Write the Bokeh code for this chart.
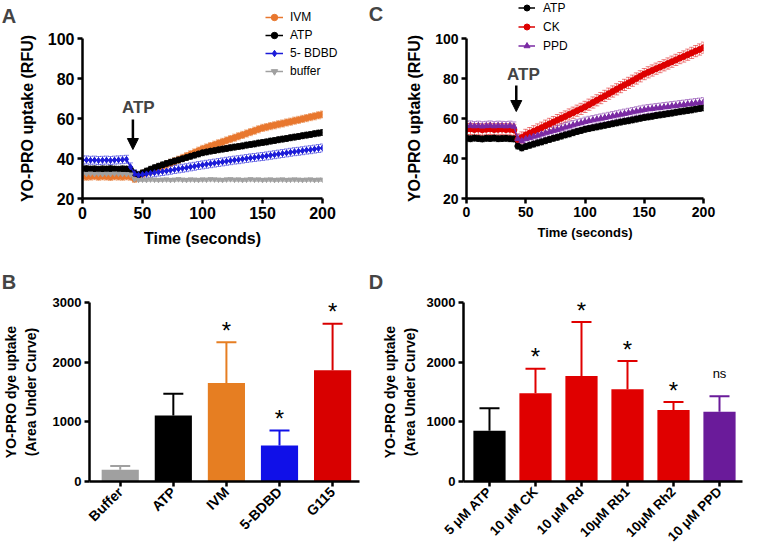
import math
from bokeh.plotting import figure
from bokeh.models import (ColumnDataSource, Range1d, FixedTicker, Whisker, TeeHead,
                          Legend, LegendItem, Label, Arrow, NormalHead)
from bokeh.layouts import column, row
from bokeh.embed import file_html
from bokeh.resources import INLINE

FONT = "Liberation Sans"

# ---------------- data ----------------
# plate reader sampling times (one read every 10/3 s)
TIME_S = [round(i * 10 / 3, 2) for i in range(61)]
ATP_ADDED_S = 42

A_IVM = [31.1, 30.9, 31.0, 31.2, 30.9, 31.1, 31.0, 30.8, 31.1, 31.0, 30.9, 31.1, 30.9,
         29.8, 31.2, 32.3,
         33.0, 33.8, 34.6, 35.4, 36.2, 37.0, 37.8, 38.6, 39.4, 40.3, 41.2, 42.1, 43.0, 43.9, 44.8,
         45.5, 46.2, 46.9, 47.6, 48.3, 49.0, 49.7, 50.4, 51.1, 51.8, 52.5, 53.2, 53.9, 54.6, 55.3,
         55.7, 56.2, 56.6, 57.1, 57.5, 58.0, 58.4, 58.9, 59.3, 59.8, 60.2, 60.7, 61.1, 61.6, 62.0]
A_ATP = [34.8, 34.9, 34.7, 34.8, 34.6, 34.8, 34.7, 34.9, 34.7, 34.6, 34.8, 34.7, 34.5,
         32.6, 31.8, 32.8,
         33.7, 34.6, 35.4, 36.1, 36.8, 37.5, 38.1, 38.7, 39.3, 39.9, 40.5, 41.1, 41.7, 42.3, 42.9,
         43.3, 43.7, 44.0, 44.4, 44.7, 45.0, 45.4, 45.7, 46.0, 46.3, 46.7, 47.0, 47.3, 47.7, 48.0,
         48.3, 48.7, 49.0, 49.4, 49.7, 50.0, 50.4, 50.7, 51.0, 51.4, 51.7, 52.0, 52.4, 52.7, 53.0]
A_BDBD = [39.2, 39.3, 39.1, 39.2, 39.0, 39.1, 39.2, 39.0, 39.2, 39.3, 39.4, 39.6, 35.8,
          32.4, 31.6, 32.0,
          32.3, 32.6, 32.9, 33.2, 33.5, 33.8, 34.1, 34.5, 34.8, 35.1, 35.4, 35.8, 36.1, 36.5, 36.8,
          37.1, 37.4, 37.7, 38.0, 38.3, 38.6, 38.9, 39.2, 39.4, 39.7, 40.0, 40.3, 40.5, 40.8, 41.0,
          41.3, 41.6, 41.9, 42.2, 42.5, 42.8, 43.1, 43.4, 43.6, 43.9, 44.2, 44.4, 44.7, 45.0, 45.3]
A_BUFFER = [32.4, 32.3, 32.5, 32.3, 32.4, 32.2, 32.4, 32.3, 32.5, 32.4, 32.3, 32.2, 32.0,
            29.6, 29.3, 29.4,
            29.3, 29.5, 29.4, 29.3, 29.4, 29.5, 29.3, 29.4, 29.6, 29.4, 29.3, 29.5, 29.4, 29.3, 29.5,
            29.4, 29.6, 29.5, 29.4, 29.3, 29.5, 29.6, 29.4, 29.5, 29.3, 29.4, 29.6, 29.4, 29.5, 29.3,
            29.4, 29.5, 29.3, 29.4, 29.5, 29.3, 29.4, 29.5, 29.4, 29.3, 29.4, 29.5, 29.3, 29.4, 29.4]
A_NAMES = ["IVM", "ATP", "5- BDBD", "buffer"]
A_SEM = [1.8, 1.5, 2.0, 0.8]

C_ATP = [50.1, 49.9, 50.2, 50.0, 49.8, 50.1, 50.0, 50.2, 49.9, 50.0, 50.1, 49.9, 49.8,
         46.2, 45.3, 46.0,
         46.6, 47.2, 47.8, 48.3, 48.9, 49.5, 50.1, 50.6, 51.2, 51.8, 52.3, 52.9, 53.5, 54.0, 54.6,
         55.0, 55.4, 55.8, 56.2, 56.6, 57.0, 57.4, 57.8, 58.2, 58.6, 58.9, 59.3, 59.7, 60.1, 60.5,
         60.8, 61.1, 61.5, 61.8, 62.1, 62.4, 62.7, 63.1, 63.4, 63.7, 64.0, 64.3, 64.7, 65.0, 65.3]
C_CK = [54.6, 54.8, 54.5, 54.7, 54.4, 54.6, 54.8, 54.5, 54.6, 54.7, 54.5, 54.6, 54.3,
        49.5, 50.5, 51.8,
        52.7, 53.6, 54.5, 55.4, 56.4, 57.3, 58.2, 59.2, 60.1, 61.0, 62.0, 62.9, 63.9, 64.8, 65.8,
        66.9, 68.0, 69.1, 70.2, 71.3, 72.4, 73.5, 74.6, 75.7, 76.8, 77.8, 78.9, 80.0, 81.1, 82.2,
        83.1, 84.0, 84.9, 85.7, 86.6, 87.5, 88.4, 89.3, 90.2, 91.0, 91.9, 92.8, 93.7, 94.5, 95.4]
C_PPD = [56.3, 56.5, 56.2, 56.4, 56.1, 56.3, 56.5, 56.2, 56.4, 56.3, 56.2, 56.4, 56.0,
         49.8, 48.8, 49.8,
         50.4, 51.0, 51.5, 52.1, 52.7, 53.3, 53.9, 54.4, 55.0, 55.6, 56.1, 56.7, 57.3, 57.8, 58.4,
         58.8, 59.2, 59.6, 60.0, 60.4, 60.8, 61.2, 61.6, 62.0, 62.4, 62.8, 63.2, 63.6, 64.0, 64.4,
         64.7, 64.9, 65.2, 65.4, 65.7, 65.9, 66.2, 66.4, 66.7, 66.9, 67.2, 67.4, 67.7, 67.9, 68.2]
C_NAMES = ["ATP", "CK", "PPD"]
C_SEM = [1.5, 2.8, 2.3]

B_GROUPS = ["Buffer", "ATP", "IVM", "5-BDBD", "G115"]
B_MEAN = [195, 1108, 1649, 605, 1865]
B_ERR = [65, 362, 686, 249, 778]
B_SIG = ["", "", "*", "*", "*"]

D_GROUPS = ["5 \u03bcM ATP", "10 \u03bcM CK", "10 \u03bcM Rd", "10\u03bcM Rb1", "10\u03bcM Rh2", "10 \u03bcM PPD"]
D_MEAN = [851, 1478, 1767, 1544, 1200, 1167]
D_ERR = [376, 410, 906, 474, 131, 262]
D_SIG = ["", "*", "*", "*", "*", "ns"]

PANEL_LETTERS = ["A", "B", "C", "D"]

# ---------------- styles ----------------
ORANGE = "#e8772e"
BLACK = "#000000"
BLUE = "#1b1bd8"
GREY = "#a0a0a0"
RED = "#dd0000"
PURPLE = "#7a2aa3"
BAR_PURPLE = "#6a1b9a"

A_SERIES = [A_IVM, A_ATP, A_BDBD, A_BUFFER]
A_STYLE = [(ORANGE, "circle", 6), (BLACK, "circle", 6), (BLUE, "diamond", 6), (GREY, "inverted_triangle", 5)]
C_SERIES = [C_ATP, C_CK, C_PPD]
C_STYLE = [(BLACK, "circle", 6), (RED, "circle", 6), (PURPLE, "triangle", 6)]


def style_axes(p, tick_size, label_size, xlabel_size=None):
    for ax in (p.xaxis[0], p.yaxis[0]):
        ax.axis_line_width = 2.5
        ax.major_tick_line_width = 2.5
        ax.major_tick_out = 5
        ax.major_tick_in = 0
        ax.minor_tick_line_color = None
        ax.major_label_text_font = FONT
        ax.major_label_text_font_style = "bold"
        ax.major_label_text_font_size = tick_size
        ax.major_label_text_color = "black"
        ax.axis_label_text_font = FONT
        ax.axis_label_text_font_style = "bold"
        ax.axis_label_text_font_size = label_size
        ax.axis_label_text_color = "black"
    if xlabel_size:
        p.xaxis[0].axis_label_text_font_size = xlabel_size
    p.grid.visible = False
    p.outline_line_color = None
    p.background_fill_alpha = 0
    p.border_fill_alpha = 0


def ts_figure(width, height, bl, br, bt, bb):
    p = figure(width=width, height=height, x_range=Range1d(0, 200), y_range=Range1d(20, 100),
               output_backend="svg", toolbar_location=None,
               min_border_left=bl, min_border_right=br, min_border_top=bt, min_border_bottom=bb)
    p.xaxis.ticker = FixedTicker(ticks=[0, 50, 100, 150, 200])
    p.yaxis.ticker = FixedTicker(ticks=[20, 40, 60, 80, 100])
    p.xaxis.axis_label = "Time (seconds)"
    p.yaxis.axis_label = "YO-PRO uptake (RFU)"
    return p


def add_series(p, vals, sem, color, marker, msize):
    src = ColumnDataSource(dict(t=TIME_S, y=vals,
                                lo=[v - sem for v in vals], hi=[v + sem for v in vals]))
    p.add_layout(Whisker(base="t", lower="lo", upper="hi", source=src, dimension="height",
                         line_color=color, line_alpha=0.5, line_width=1,
                         upper_head=TeeHead(size=5, line_color=color, line_alpha=0.5, line_width=1),
                         lower_head=TeeHead(size=5, line_color=color, line_alpha=0.5, line_width=1)))
    p.line("t", "y", source=src, line_color=color, line_width=1.5)
    p.scatter("t", "y", source=src, marker=marker, size=msize, fill_color=color, line_color=color)


# ---------------- panel A ----------------
pA = ts_figure(370, 270, 82, 48, 38, 71)
style_axes(pA, "16px", "16px")
pA.yaxis.major_label_standoff = 3
pA.yaxis.axis_label_standoff = 9
pA.xaxis.major_label_standoff = 3
pA.xaxis.axis_label_standoff = 8
for vals, sem, (col, mk, ms) in zip(A_SERIES, A_SEM, A_STYLE):
    add_series(pA, vals, sem, col, mk, ms)
pA.add_layout(Arrow(end=NormalHead(size=11, fill_color="black", line_color="black"),
                    x_start=ATP_ADDED_S, y_start=59.5, x_end=ATP_ADDED_S, y_end=44.5,
                    line_width=2.5, line_color="black"))
pA.add_layout(Label(x=ATP_ADDED_S + 4.5, y=65.5, text="ATP", text_font=FONT, text_font_style="bold",
                    text_font_size="17px", text_align="center", text_baseline="middle"))

# ---------------- panel C ----------------
pC = ts_figure(407, 270, 96, 74, 36, 72)
style_axes(pC, "14px", "16px", "13px")
pC.yaxis.major_label_standoff = 3
pC.yaxis.axis_label_standoff = 9
pC.xaxis.major_label_standoff = 3
pC.xaxis.axis_label_standoff = 5
for vals, sem, (col, mk, ms) in zip(C_SERIES, C_SEM, C_STYLE):
    add_series(pC, vals, sem, col, mk, ms)
pC.add_layout(Arrow(end=NormalHead(size=11, fill_color="black", line_color="black"),
                    x_start=ATP_ADDED_S, y_start=76.5, x_end=ATP_ADDED_S, y_end=63.5,
                    line_width=2.5, line_color="black"))
pC.add_layout(Label(x=ATP_ADDED_S + 6, y=82, text="ATP", text_font=FONT, text_font_style="bold",
                    text_font_size="17px", text_align="center", text_baseline="middle"))


# ---------------- bar panels ----------------
def bar_figure(groups, means, errs, colors, sig, width, height, bl, br, bt, bb, xs, xe):
    xs_idx = list(range(len(groups)))
    p = figure(width=width, height=height, x_range=Range1d(xs, xe), y_range=Range1d(0, 3000),
               output_backend="svg", toolbar_location=None,
               min_border_left=bl, min_border_right=br, min_border_top=bt, min_border_bottom=bb)
    src = ColumnDataSource(dict(x=xs_idx, top=means, hi=[m + e for m, e in zip(means, errs)],
                                color=colors))
    p.segment(x0="x", y0="top", x1="x", y1="hi", source=src, line_color="color", line_width=2)
    p.scatter("x", "hi", source=src, marker="dash", size=20, line_color="color", line_width=2)
    p.vbar(x="x", top="top", width=0.7, source=src, fill_color="color", line_color=None)
    stars = [i for i, s in enumerate(sig) if s == "*"]
    others = [i for i, s in enumerate(sig) if s not in ("", "*")]
    s1 = ColumnDataSource(dict(x=stars, y=[means[i] + errs[i] for i in stars], t=[sig[i] for i in stars]))
    p.text("x", "y", text="t", source=s1, text_font={"value": FONT}, text_font_size="24px",
           text_align="center", text_baseline="alphabetic", y_offset=-12)
    s2 = ColumnDataSource(dict(x=others, y=[means[i] + errs[i] for i in others], t=[sig[i] for i in others]))
    p.text("x", "y", text="t", source=s2, text_font={"value": FONT}, text_font_size="13px",
           text_align="center", text_baseline="alphabetic", y_offset=-23)
    p.xaxis.ticker = FixedTicker(ticks=xs_idx)
    p.xaxis.major_label_overrides = {i: g for i, g in enumerate(groups)}
    p.xaxis.major_label_orientation = math.pi / 4
    p.yaxis.ticker = FixedTicker(ticks=[0, 1000, 2000, 3000])
    p.yaxis.axis_label = "YO-PRO dye uptake\n(Area Under Curve)"
    style_axes(p, "13px", "14px")
    p.xaxis.major_label_text_font_size = "14px"
    p.yaxis.major_label_standoff = 3
    p.xaxis.major_label_standoff = 3
    return p


B_COLORS = [GREY, BLACK, "#e67e22", "#1010e8", "#d80000"]
pB = bar_figure(B_GROUPS, B_MEAN, B_ERR, B_COLORS, B_SIG, 370, 282, 78, 11, 31, 66, -0.579, 4.507)
pB.yaxis.axis_label_standoff = 11

D_COLORS = [BLACK, "#e00000", "#e00000", "#e00000", "#e00000", BAR_PURPLE]
pD = bar_figure(D_GROUPS, D_MEAN, D_ERR, D_COLORS, D_SIG, 407, 282, 93, 35, 32, 66, -0.565, 5.5)
pD.xaxis.major_label_text_font_size = "13.5px"
pD.yaxis.axis_label_standoff = 6

layout = column(row(pA, pC), row(pB, pD))
layout.styles = {"position": "absolute", "left": "0px", "top": "0px"}

# ---------------- overlay: panel letters and legends (page pixel space) ----------------
ov = figure(width=777, height=552, x_range=Range1d(0, 777), y_range=Range1d(552, 0),
            output_backend="svg", toolbar_location=None, min_border=0,
            x_axis_location=None, y_axis_location=None)
ov.grid.visible = False
ov.outline_line_color = None
ov.background_fill_alpha = 0
ov.border_fill_alpha = 0
ov.styles = {"position": "absolute", "left": "0px", "top": "0px", "pointer-events": "none"}

for letter, (lx, ly) in zip(PANEL_LETTERS, [(8.5, 15), (8.5, 281), (375.5, 13), (375.5, 281)]):
    ov.add_layout(Label(x=lx, y=ly, text=letter, text_font=FONT, text_font_style="bold",
                        text_font_size="20px", text_align="center", text_baseline="middle"))


def legend_items(names, series, styles):
    # hidden copies of the series, used only as legend glyph samples
    items = []
    for name, vals, (col, mk, ms) in zip(names, series, styles):
        l = ov.line(x=TIME_S, y=vals, line_color=col, line_width=1.5, visible=False)
        s = ov.scatter(x=TIME_S, y=vals, marker=mk, size=ms, fill_color=col, line_color=col,
                       visible=False)
        items.append(LegendItem(label=name, renderers=[l, s]))
    return items


def make_legend(items, vx, vy, gw, standoff, lh, spacing):
    return Legend(items=items, location=(vx, vy), glyph_width=gw, glyph_height=lh, label_height=lh,
                  label_standoff=standoff, spacing=spacing, padding=0, margin=0,
                  border_line_color=None, background_fill_alpha=0,
                  inactive_fill_alpha=0, label_text_color="black",
                  label_text_font=FONT, label_text_font_size="12px")


ov.add_layout(make_legend(legend_items(A_NAMES, A_SERIES, A_STYLE), 265, 473, 18, 7, 16, 2))
ov.add_layout(make_legend(legend_items(C_NAMES, C_SERIES, C_STYLE), 518, 499, 17, 8, 15, 4))

open("out.html", "w").write(file_html([layout, ov], INLINE))
